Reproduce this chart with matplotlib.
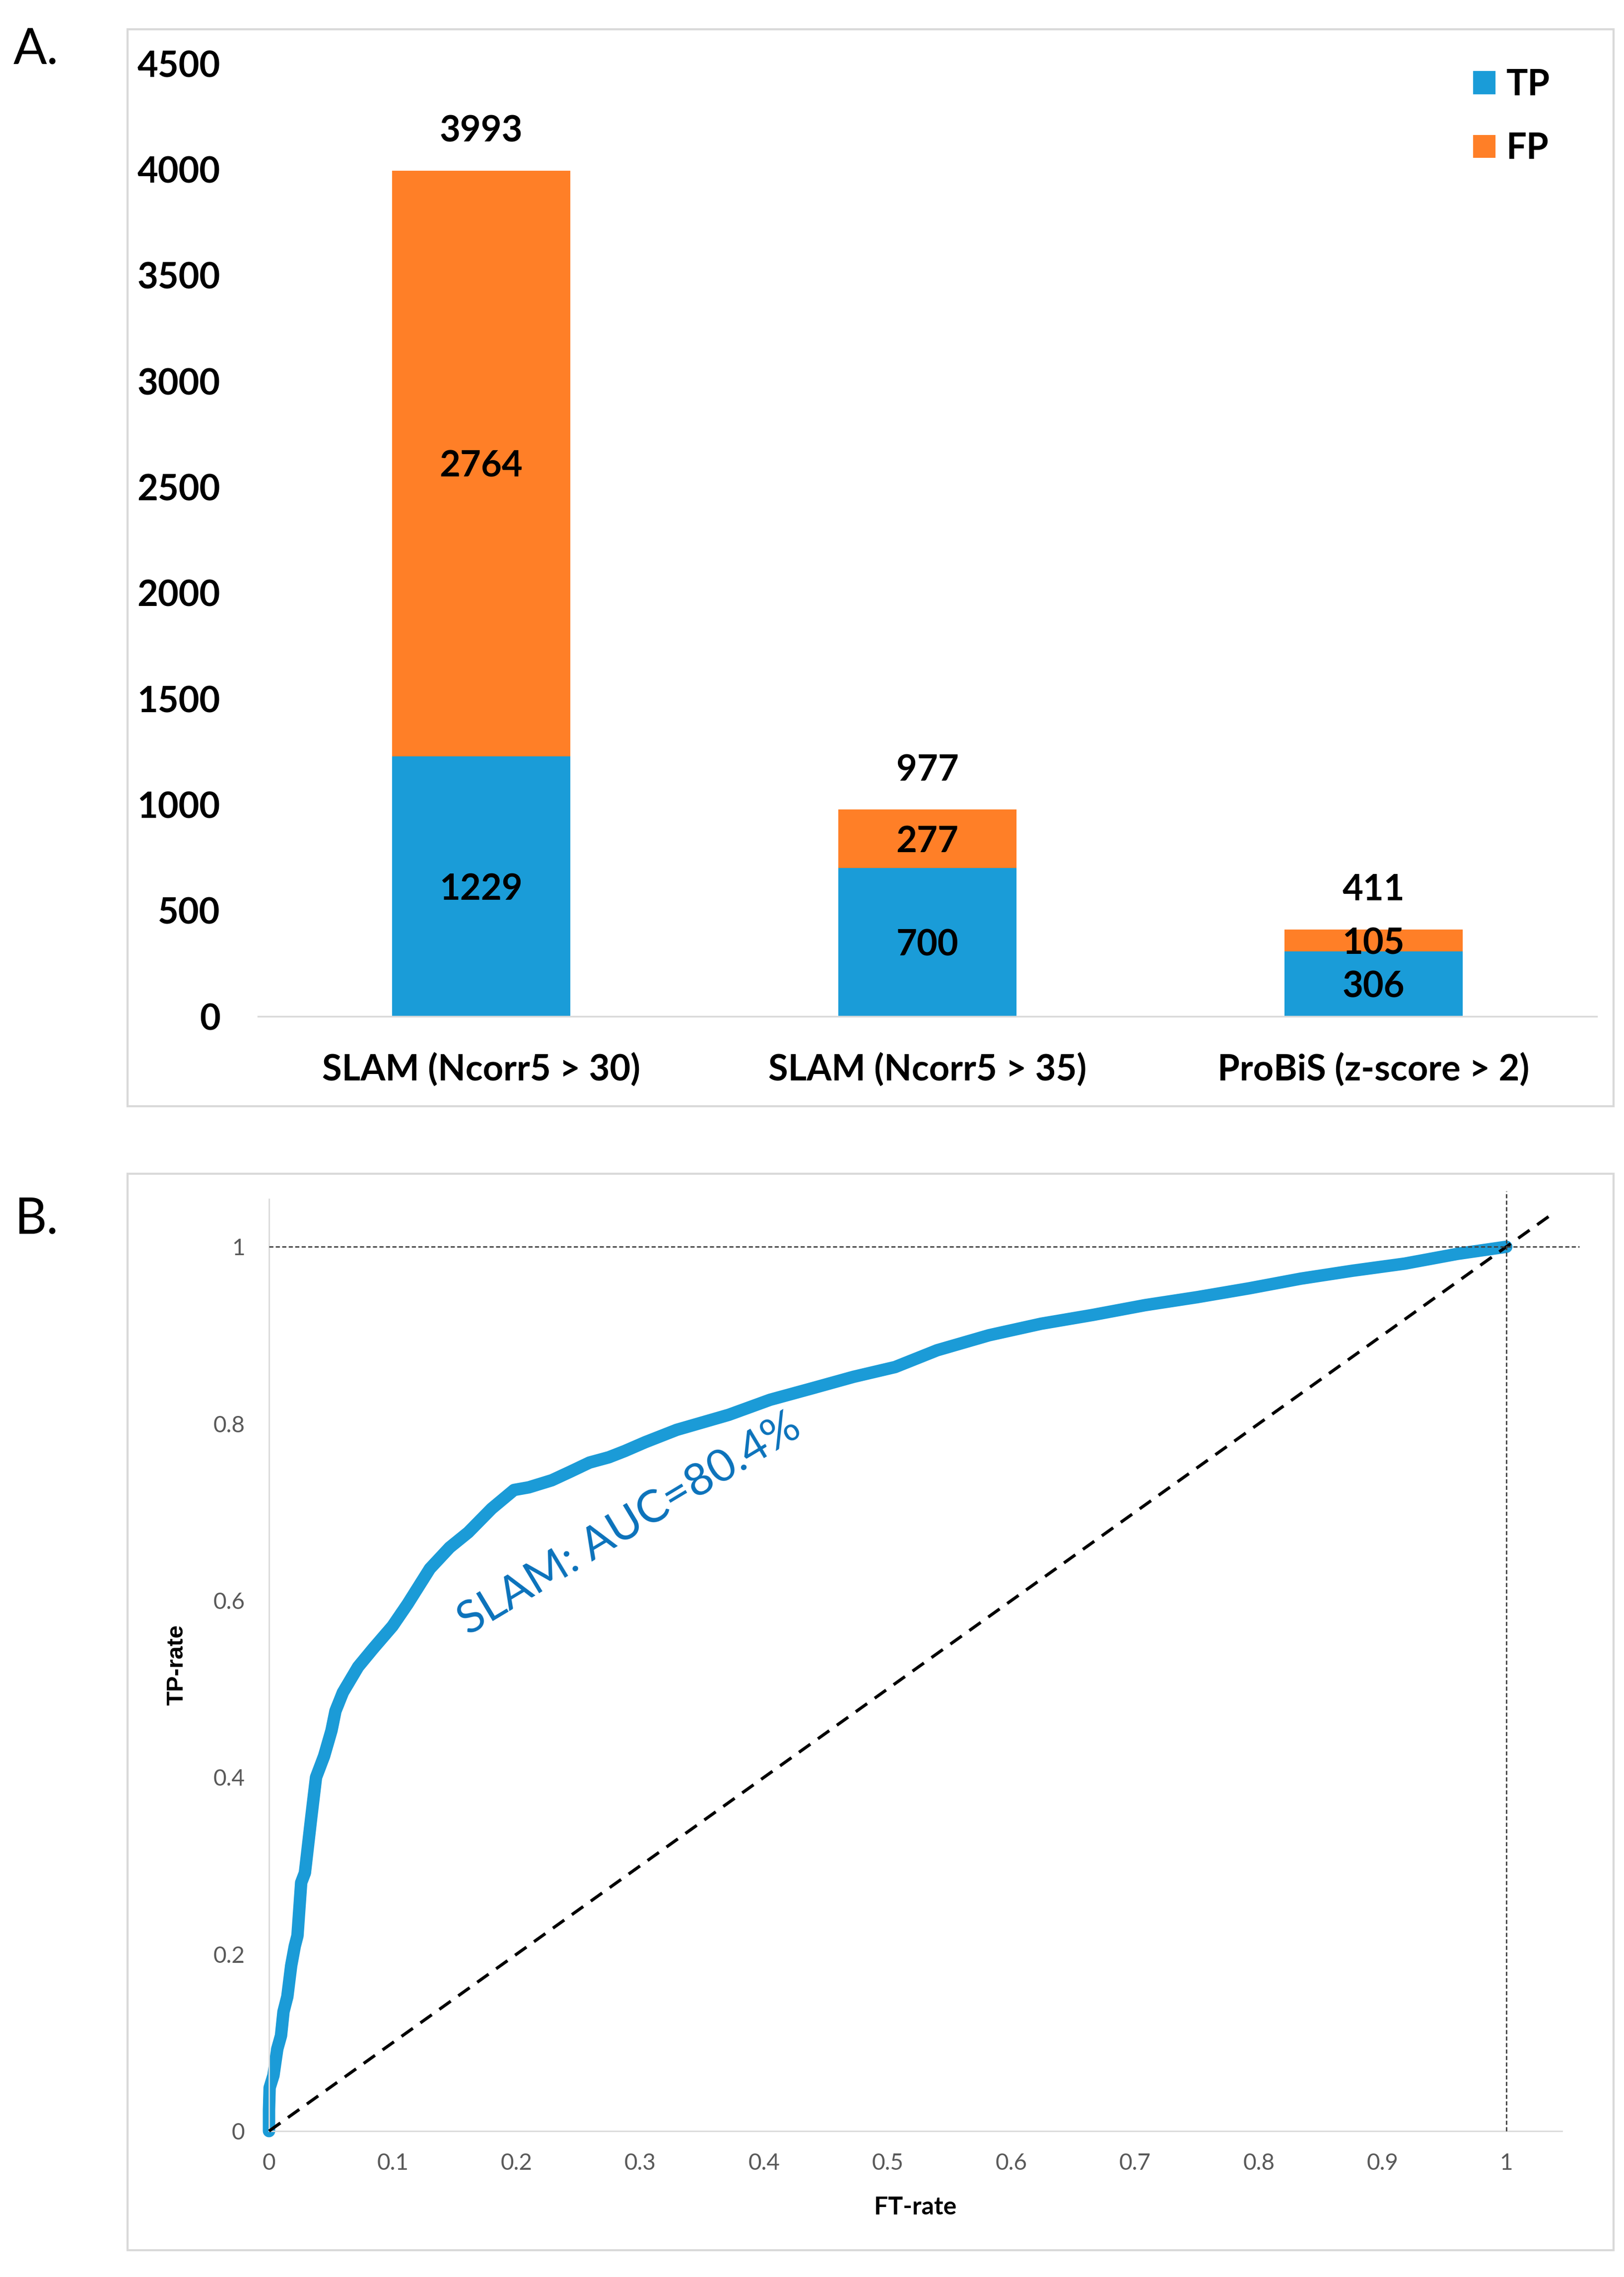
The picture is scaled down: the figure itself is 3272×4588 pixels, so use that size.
import numpy as np
import matplotlib.pyplot as plt
from matplotlib.patches import Rectangle

plt.rcParams["font.family"] = ["Lato", "DejaVu Sans"]

# ---- panel A data ----
methods = ["SLAM (Ncorr5 > 30)", "SLAM (Ncorr5 > 35)", "ProBiS (z-score > 2)"]
tp_counts = [1229, 700, 306]
fp_counts = [2764, 277, 105]
a_yticks = [0, 500, 1000, 1500, 2000, 2500, 3000, 3500, 4000, 4500]

# ---- panel B data (ROC curve) ----
fpr = [0.0, 0.0, 0.0005, 0.0036, 0.0067, 0.0097, 0.0117, 0.0148, 0.0179, 0.0208,
       0.023, 0.026, 0.029, 0.034, 0.038, 0.0445, 0.0505, 0.0537, 0.0597, 0.072,
       0.0844, 0.0998, 0.112, 0.130, 0.146, 0.161, 0.180, 0.198, 0.210, 0.2286,
       0.244, 0.259, 0.2747, 0.2875, 0.304, 0.3295, 0.3716, 0.405, 0.439, 0.4725,
       0.506, 0.540, 0.582, 0.624, 0.666, 0.708, 0.750, 0.792, 0.834, 0.876,
       0.918, 0.9605, 1.0]
tpr = [0.0, 0.024, 0.049, 0.063, 0.093, 0.108, 0.135, 0.152, 0.187, 0.209,
       0.221, 0.281, 0.292, 0.353, 0.400, 0.424, 0.453, 0.475, 0.496, 0.525,
       0.546, 0.571, 0.596, 0.636, 0.660, 0.677, 0.704, 0.725, 0.728, 0.736,
       0.746, 0.756, 0.762, 0.769, 0.779, 0.793, 0.810, 0.827, 0.840, 0.853,
       0.864, 0.883, 0.900, 0.913, 0.923, 0.934, 0.943, 0.953, 0.964, 0.973,
       0.981, 0.992, 1.0]
b_xticks = [0, 0.1, 0.2, 0.3, 0.4, 0.5, 0.6, 0.7, 0.8, 0.9, 1]
b_xlabels = ["0", "0.1", "0.2", "0.3", "0.4", "0.5", "0.6", "0.7", "0.8", "0.9", "1"]
b_yticks = [0, 0.2, 0.4, 0.6, 0.8, 1]
b_ylabels = ["0", "0.2", "0.4", "0.6", "0.8", "1"]
auc_text = "SLAM: AUC=80.4%"

BLUE = "#1a9cd8"
ORANGE = "#ff7f27"
CURVE = "#1b9bd7"
FRAME = "#d9d9d9"

W, H = 3273, 4588
fig = plt.figure(figsize=(W / 100, H / 100), dpi=100)

# panel frames
for (x0, y0, x1, y1) in [(257, 59, 3251, 2229), (257, 2365, 3251, 4534)]:
    fig.patches.append(Rectangle((x0 / W, 1 - y1 / H), (x1 - x0) / W, (y1 - y0) / H,
                                 transform=fig.transFigure, fill=False,
                                 edgecolor=FRAME, linewidth=3))

fig.text(27 / W, 1 - 130 / H, "A.", fontsize=72, va="baseline", ha="left")
fig.text(30 / W, 1 - 2486 / H, "B.", fontsize=72, va="baseline", ha="left")

# ---------------- panel A ----------------
axA = fig.add_axes([520 / W, 1 - 2048 / H, (3217 - 520) / W, (2048 - 128) / H])
x = np.arange(len(methods))
tp = np.array(tp_counts)
fp = np.array(fp_counts)
total = tp + fp
b1 = axA.bar(x, tp, width=0.4, color=BLUE, label="TP")
b2 = axA.bar(x, fp, bottom=tp, width=0.4, color=ORANGE, label="FP")

fs = 52
for i in range(len(x)):
    axA.text(x[i], tp[i] / 2, str(tp[i]), ha="center", va="center_baseline",
             fontsize=fs, fontweight="bold")
    axA.text(x[i], tp[i] + fp[i] / 2, str(fp[i]), ha="center", va="center_baseline",
             fontsize=fs, fontweight="bold")
    axA.text(x[i], total[i] + 200, str(total[i]), ha="center", va="center_baseline",
             fontsize=fs, fontweight="bold")

axA.set_xlim(-0.5, 2.5)
axA.set_ylim(0, 4500)
axA.set_yticks(a_yticks)
axA.set_xticks(x)
axA.set_xticklabels(methods)
for s in ["top", "right", "left"]:
    axA.spines[s].set_visible(False)
axA.spines["bottom"].set_color(FRAME)
axA.spines["bottom"].set_linewidth(2.5)
axA.tick_params(axis="both", length=0, labelsize=fs)
axA.tick_params(axis="y", pad=55)
axA.tick_params(axis="x", pad=52)
for lab in axA.get_xticklabels() + axA.get_yticklabels():
    lab.set_fontweight("bold")

axA.legend(handles=[b1, b2], loc="upper left", bbox_to_anchor=(2968 / W, 1 - 138 / H),
           bbox_transform=fig.transFigure, frameon=False,
           prop={"size": fs, "weight": "bold"}, handlelength=0.62, handleheight=0.62,
           handletextpad=0.3, labelspacing=0.85, borderpad=0, borderaxespad=0)

# ---------------- panel B ----------------
axB = fig.add_axes([542 / W, 1 - 4294 / H, (3147 - 542) / W, (4294 - 2416) / H])
axB.plot(fpr, tpr, color=CURVE, linewidth=18, solid_capstyle="round",
         solid_joinstyle="round", clip_on=False, zorder=2)
axB.plot([0, 1.04], [0, 1.04], color="black", linewidth=4.5, dashes=(4.5, 3),
         clip_on=False, zorder=3)
axB.plot([0, 1.059], [1, 1], color="#404040", linewidth=2, dashes=(3, 1.7),
         clip_on=False, zorder=4)
axB.plot([1, 1], [0, 1.063], color="#404040", linewidth=2, dashes=(3, 1.7),
         clip_on=False, zorder=4)

axB.text(0.2916, 0.686, auc_text, color="#0b72bb", fontsize=66, rotation=31,
         rotation_mode="anchor", ha="center", va="center")

axB.set_xlim(0, 1.045)
axB.set_ylim(0, 1.054)
axB.set_xticks(b_xticks)
axB.set_xticklabels(b_xlabels)
axB.set_yticks(b_yticks)
axB.set_yticklabels(b_ylabels)
for s in ["top", "right"]:
    axB.spines[s].set_visible(False)
for s in ["left", "bottom"]:
    axB.spines[s].set_color(FRAME)
    axB.spines[s].set_linewidth(2)
axB.tick_params(axis="both", length=0, labelsize=33, colors="#595959")
axB.tick_params(axis="y", pad=35)
axB.tick_params(axis="x", pad=32)

axB.set_xlabel("FT-rate", fontsize=36, fontweight="bold", va="center")
axB.xaxis.set_label_coords(0.5, (4294 - 4447) / (4294 - 2416))
axB.set_ylabel("TP-rate", fontsize=34, fontweight="bold", va="center",
               fontfamily=["Liberation Sans", "DejaVu Sans"])
axB.yaxis.set_label_coords((357 - 542) / (3147 - 542), 0.5)

fig.savefig("out.png", dpi=100)
